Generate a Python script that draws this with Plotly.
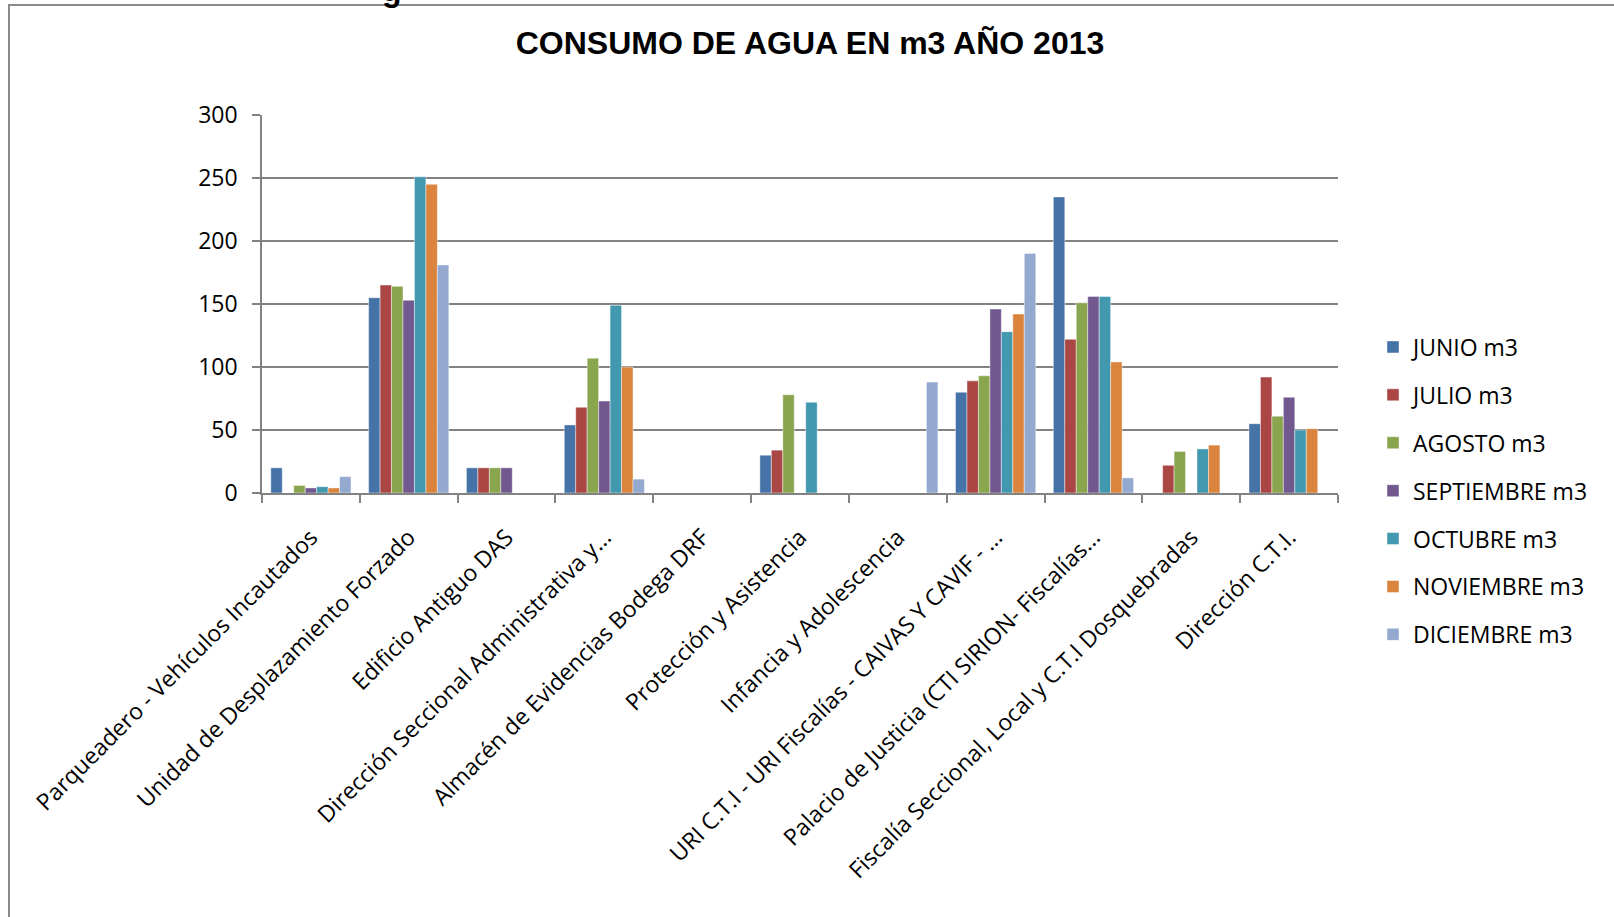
import plotly.graph_objects as go

# Categories (x axis labels, truncated as in the original)
CATEGORIAS = [
    "Parqueadero - Vehículos Incautados",
    "Unidad de Desplazamiento Forzado",
    "Edificio Antiguo DAS",
    "Dirección Seccional Administrativa y...",
    "Almacén de Evidencias Bodega DRF",
    "Protección y Asistencia",
    "Infancia y Adolescencia",
    "URI C.T.I - URI Fiscalías - CAIVAS Y CAVIF - ...",
    "Palacio de Justicia (CTI SIRION- Fiscalías...",
    "Fiscalía Seccional, Local y C.T.I Dosquebradas",
    "Dirección C.T.I.",
]

# Monthly consumption (m3), None = no bar
JUNIO = [20, 155, 20, 54, None, 30, None, 80, 235, None, 55]
JULIO = [None, 165, 20, 68, None, 34, None, 89, 122, 22, 92]
AGOSTO = [6, 164, 20, 107, None, 78, None, 93, 151, 33, 61]
SEPTIEMBRE = [4, 153, 20, 73, None, None, None, 146, 156, None, 76]
OCTUBRE = [5, 251, None, 149, None, 72, None, 128, 156, 35, 50]
NOVIEMBRE = [4, 245, None, 100, None, None, None, 142, 104, 38, 51]
DICIEMBRE = [13, 181, None, 11, None, None, 88, 190, 12, None, None]

SERIES = [
    ("JUNIO m3", JUNIO, "#4572A7"),
    ("JULIO m3", JULIO, "#AA4643"),
    ("AGOSTO m3", AGOSTO, "#89A54E"),
    ("SEPTIEMBRE m3", SEPTIEMBRE, "#71588F"),
    ("OCTUBRE m3", OCTUBRE, "#4198AF"),
    ("NOVIEMBRE m3", NOVIEMBRE, "#DB843D"),
    ("DICIEMBRE m3", DICIEMBRE, "#93A9CF"),
]

TEXT_FONT = "Open Sans, Noto Sans, sans-serif"
GRID = "#828282"

fig = go.Figure()
for i, (name, values, color) in enumerate(SERIES):
    fig.add_trace(
        go.Bar(
            x=CATEGORIAS,
            y=values,
            name=name,
            legendgroup=f"g{i}",
            marker=dict(color=color, line=dict(color="rgba(255,255,255,0.55)", width=0.8)),
        )
    )

# plot area: x 262..1338, y 115..493 in a 1614x917 page
L, R, T, B = 262, 1614 - 1338, 115, 917 - 493
PW, PH = 1614 - L - R, 917 - T - B

fig.update_layout(
    width=1614,
    height=917,
    margin=dict(l=L, r=R, t=T, b=B, autoexpand=False),
    paper_bgcolor="white",
    plot_bgcolor="white",
    barmode="group",
    bargap=0.18,
    bargroupgap=0,
    title=dict(
        text="<b>CONSUMO DE AGUA EN m3 AÑO 2013</b>",
        x=810 / 1614,
        xanchor="center",
        y=1 - 43 / 917,
        yanchor="middle",
        font=dict(family="Liberation Sans, Arial, sans-serif", size=32, color="black"),
    ),
    font=dict(family=TEXT_FONT, size=23, color="black"),
    legend=dict(
        x=(1373 - L) / PW,
        xanchor="left",
        y=(493 - 491) / PH,
        yanchor="middle",
        tracegroupgap=15,
        font=dict(family=TEXT_FONT, size=23, color="black"),
        bgcolor="rgba(0,0,0,0)",
    ),
    showlegend=True,
)

fig.update_xaxes(
    type="category",
    tickangle=-45,
    tickson="boundaries",
    ticks="outside",
    ticklen=8,
    tickwidth=1.5,
    tickcolor=GRID,
    ticklabelstandoff=20,
    showline=True,
    linecolor=GRID,
    linewidth=1.5,
    showgrid=False,
    tickfont=dict(family=TEXT_FONT, size=23, color="black"),
)
fig.update_yaxes(
    range=[0, 300],
    dtick=50,
    ticks="outside",
    ticklen=8,
    tickwidth=1.5,
    tickcolor=GRID,
    ticklabelstandoff=10,
    showline=True,
    linecolor=GRID,
    linewidth=1.5,
    showgrid=True,
    gridcolor=GRID,
    gridwidth=1.5,
    zeroline=False,
    tickfont=dict(family=TEXT_FONT, size=23, color="black"),
)

# outer chart frame (top and left edges visible, the rest runs off the page)
fig.add_shape(
    type="rect",
    xref="paper",
    yref="paper",
    x0=(9 - L) / PW,
    x1=(1700 - L) / PW,
    y0=(493 - 1000) / PH,
    y1=(493 - 5) / PH,
    line=dict(color="#8a8a8a", width=2),
    fillcolor="rgba(0,0,0,0)",
    layer="below",
)

# bottom of a cut-off letter from the document text above the chart
fig.add_annotation(
    text="<b>g</b>",
    xref="paper",
    yref="paper",
    x=(392 - L) / PW,
    y=(493 + 10) / PH,
    xanchor="center",
    yanchor="middle",
    showarrow=False,
    font=dict(family="Liberation Sans, Arial, sans-serif", size=32, color="black"),
)

# page without the default body margin so the figure starts at the corner
fig.write_html(
    "out.html",
    config={"displayModeBar": False},
    post_script="document.body.style.margin='0';",
)
